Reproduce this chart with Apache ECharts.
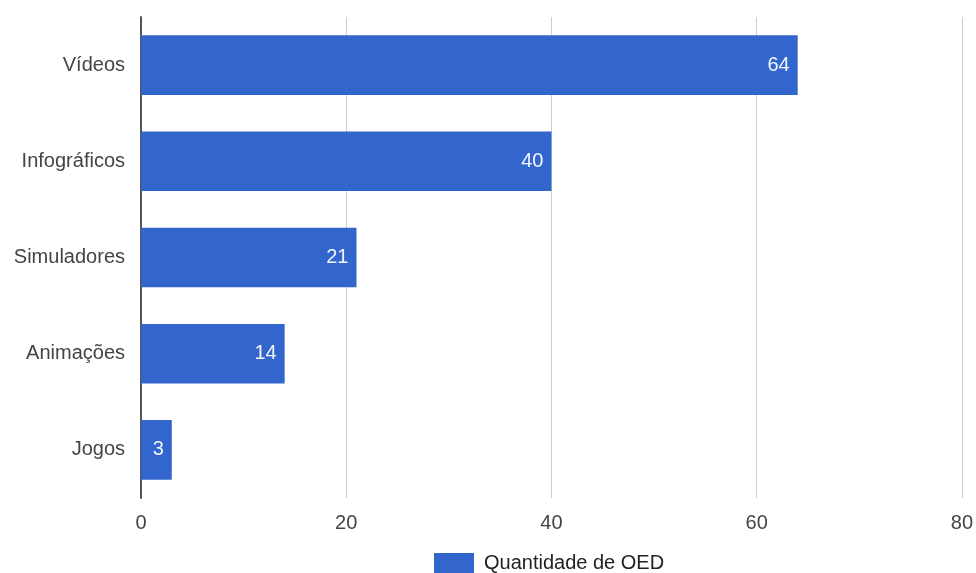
<!DOCTYPE html>
<html><head><meta charset="utf-8">
<script src="https://cdn.jsdelivr.net/npm/echarts@6/dist/echarts.min.js"></script>
<style>html,body{margin:0;padding:0;background:#fff}#c{width:976px;height:573px}</style>
</head><body><div id="c"></div>
<script>
const categories = ['Vídeos', 'Infográficos', 'Simuladores', 'Animações', 'Jogos'];
const values = [64, 40, 21, 14, 3];
const seriesName = 'Quantidade de OED';
const xTicks = [0, 20, 40, 60, 80];

const FONT = '"Liberation Sans", Arial, sans-serif';
const chart = echarts.init(document.getElementById('c'));
chart.setOption({
  animation: false,
  textStyle: { fontFamily: FONT },
  grid: { left: 141, right: 14, top: 17, bottom: 75, containLabel: false },
  legend: {
    left: 434, top: 553, padding: 0, itemWidth: 40, itemHeight: 20, itemGap: 10,
    icon: 'rect',
    textStyle: { fontSize: 20, color: '#222', fontFamily: FONT, padding: [0, 0, 0, 5] },
    data: [seriesName]
  },
  xAxis: {
    type: 'value', min: xTicks[0], max: xTicks[xTicks.length - 1], interval: 20,
    axisLine: { show: false }, axisTick: { show: false },
    splitLine: { lineStyle: { color: '#cccccc', width: 1 } },
    axisLabel: { fontSize: 20, color: '#444', margin: 15, fontFamily: FONT }
  },
  yAxis: {
    type: 'category', data: categories, inverse: true,
    axisLine: { show: true, lineStyle: { color: '#555', width: 2 } },
    axisTick: { show: false },
    axisLabel: { fontSize: 20, color: '#444', margin: 16, fontFamily: FONT }
  },
  series: [{
    name: seriesName, type: 'bar', data: values,
    barCategoryGap: '38%',
    itemStyle: { color: '#3366cc' },
    label: { show: true, position: 'insideRight', distance: 8, color: '#f2f5fc', fontSize: 20, fontFamily: FONT }
  }]
});
</script></body></html>
